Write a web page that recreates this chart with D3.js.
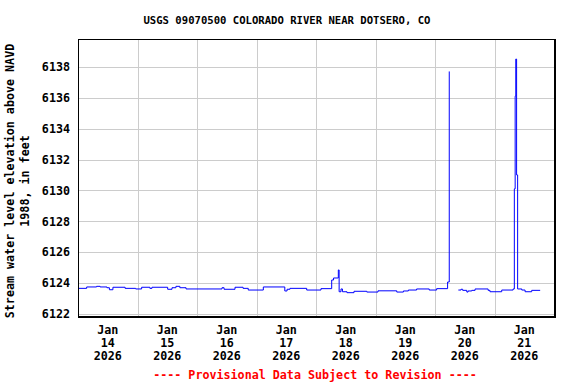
<!DOCTYPE html>
<html>
<head>
<meta charset="utf-8">
<script src="https://cdn.jsdelivr.net/npm/d3@7"></script>
<style>
  body { margin: 0; background: #fff; }
  svg { display: block; }
  text { font-family: "DejaVu Sans Mono", "Liberation Mono", monospace; font-weight: bold; }
</style>
</head>
<body>
<div id="chart"></div>
<script>
// gage readings, null = missing record
var times = [
  "2026-01-14 00:00", "2026-01-14 03:30", "2026-01-14 07:30", "2026-01-14 08:55", "2026-01-14 11:40",
  "2026-01-14 12:40", "2026-01-14 14:05", "2026-01-14 19:00", "2026-01-14 23:15", "2026-01-15 01:40",
  "2026-01-15 05:00", "2026-01-15 05:50", "2026-01-15 12:10", "2026-01-15 13:55", "2026-01-15 15:30",
  "2026-01-15 17:05", "2026-01-15 19:35", "2026-01-16 10:05", "2026-01-16 10:55", "2026-01-16 15:20",
  "2026-01-16 18:35", "2026-01-16 20:40", "2026-01-17 02:45", "2026-01-17 11:25", "2026-01-17 12:20",
  "2026-01-17 13:30", "2026-01-17 20:15", "2026-01-18 02:00", "2026-01-18 06:20", "2026-01-18 07:05",
  "2026-01-18 09:00", "2026-01-18 09:20", "2026-01-18 10:05", "2026-01-18 10:40", "2026-01-18 12:30",
  "2026-01-18 15:20", "2026-01-18 20:30", "2026-01-19 01:00", "2026-01-19 08:35", "2026-01-19 11:15",
  "2026-01-19 13:15", "2026-01-19 16:35", "2026-01-19 21:40", "2026-01-20 00:40", "2026-01-20 05:05",
  "2026-01-20 05:45", "2026-01-20 06:00", "2026-01-20 09:25", "2026-01-20 10:30", "2026-01-20 11:10",
  "2026-01-20 12:50", "2026-01-20 13:20", "2026-01-20 14:50", "2026-01-20 16:10", "2026-01-20 21:25",
  "2026-01-20 22:10", "2026-01-21 02:55", "2026-01-21 07:30", "2026-01-21 08:00", "2026-01-21 08:20",
  "2026-01-21 08:35", "2026-01-21 08:55", "2026-01-21 09:20", "2026-01-21 11:00", "2026-01-21 12:20",
  "2026-01-21 15:00", "2026-01-21 18:25"
];
var levels = [
  6123.66, 6123.75, 6123.79, 6123.75, 6123.70,
  6123.57, 6123.73, 6123.66, 6123.62, 6123.73,
  6123.66, 6123.73, 6123.60, 6123.70, 6123.79,
  6123.70, 6123.62, 6123.70, 6123.60, 6123.73,
  6123.66, 6123.55, 6123.75, 6123.49, 6123.60,
  6123.66, 6123.55, 6123.64, 6124.20, 6124.33,
  6124.85, 6123.44, 6123.62, 6123.44, 6123.38,
  6123.47, 6123.42, 6123.50, 6123.42, 6123.49,
  6123.55, 6123.62, 6123.55, 6123.64, 6124.07,
  6137.70, null, 6123.55, 6123.60, 6123.53,
  6123.42, 6123.49, 6123.53, 6123.62, 6123.53,
  6123.44, 6123.55, 6123.62, 6130.10, 6136.10,
  6138.50, 6131.00, 6123.62, 6123.55, 6123.44,
  6123.53, 6123.53
];
var yTicks = [6122, 6124, 6126, 6128, 6130, 6132, 6134, 6136, 6138];
var dayLabels = ["2026-01-14", "2026-01-15", "2026-01-16", "2026-01-17", "2026-01-18", "2026-01-19", "2026-01-20", "2026-01-21"];

var width = 576, height = 384;
var margin = {top: 39, right: 22, bottom: 68, left: 78};
var w = width - margin.left - margin.right;
var h = height - margin.top - margin.bottom;
var fs = "11.7px";

var parseT = d3.utcParse("%Y-%m-%d %H:%M");
var parseD = d3.utcParse("%Y-%m-%d");

var data = times.map(function(t, i) {
    return {date: parseT(t), value: levels[i]};
});

var x = d3.scaleUtc()
    .domain([parseD("2026-01-14"), parseD("2026-01-22")])
    .range([0, w]);

var y = d3.scaleLinear()
    .domain([6121.87, 6139.8])
    .range([h, 0]);

var svg = d3.select("#chart").append("svg")
    .attr("width", width)
    .attr("height", height);

svg.append("text")
    .attr("x", 287)
    .attr("y", 24)
    .attr("text-anchor", "middle")
    .style("font-size", "10.6px")
    .text("USGS 09070500 COLORADO RIVER NEAR DOTSERO, CO");

var g = svg.append("g")
    .attr("transform", "translate(" + margin.left + "," + margin.top + ")");

// grid
g.append("g")
    .selectAll("line")
    .data(yTicks)
    .enter().append("line")
    .attr("x1", 0).attr("x2", w)
    .attr("y1", function(d) { return Math.round(y(d)) + 0.5; })
    .attr("y2", function(d) { return Math.round(y(d)) + 0.5; })
    .attr("stroke", "#cccccc");

g.append("g")
    .selectAll("line")
    .data(d3.utcDay.range(parseD("2026-01-15"), parseD("2026-01-22")))
    .enter().append("line")
    .attr("y1", 0).attr("y2", h)
    .attr("x1", function(d) { return Math.round(x(d)) + 0.5; })
    .attr("x2", function(d) { return Math.round(x(d)) + 0.5; })
    .attr("stroke", "#cccccc");

// y axis labels
var yAxis = d3.axisLeft(y)
    .tickValues(yTicks)
    .tickFormat(d3.format("d"))
    .tickSize(0)
    .tickPadding(8);

g.append("g")
    .call(yAxis)
    .call(function(s) { s.select(".domain").remove(); })
    .selectAll("text")
    .style("font-size", fs)
    .attr("fill", "#000");

// x axis labels at noon of each day
function noon(d) { return x(d3.utcHour.offset(parseD(d), 12)); }

var xLab = g.append("g")
    .attr("transform", "translate(0," + h + ")")
    .selectAll("text")
    .data(dayLabels)
    .enter().append("text")
    .attr("text-anchor", "middle")
    .style("font-size", fs);

xLab.append("tspan").attr("x", noon).attr("y", 18).text("Jan");
xLab.append("tspan").attr("x", noon).attr("y", 31)
    .text(function(d) { return d3.utcFormat("%d")(parseD(d)); });
xLab.append("tspan").attr("x", noon).attr("y", 44).text("2026");

// the series
var line = d3.line()
    .defined(function(d) { return d.value !== null; })
    .curve(d3.curveStepAfter)
    .x(function(d) { return x(d.date); })
    .y(function(d) { return y(d.value); });

g.append("path")
    .datum(data)
    .attr("fill", "none")
    .attr("stroke", "#0000ff")
    .attr("stroke-width", 1)
    .attr("d", line);

// frame: thin top/left, heavier right/bottom
g.append("rect")
    .attr("x", 0.5).attr("y", 0.5)
    .attr("width", w).attr("height", h)
    .attr("fill", "none")
    .attr("stroke", "#000")
    .attr("stroke-width", 1);
g.append("line")
    .attr("x1", 0).attr("x2", w + 1.5)
    .attr("y1", h + 1.5).attr("y2", h + 1.5)
    .attr("stroke", "#000").attr("stroke-width", 1);
g.append("line")
    .attr("x1", w + 1.5).attr("x2", w + 1.5)
    .attr("y1", 0).attr("y2", h + 2)
    .attr("stroke", "#000").attr("stroke-width", 1);

// y title
var yt = svg.append("text")
    .attr("transform", "translate(14,181) rotate(-90)")
    .attr("text-anchor", "middle")
    .style("font-size", fs);
yt.append("tspan").attr("x", 0).attr("y", 0).text("Stream water level elevation above NAVD");
yt.append("tspan").attr("x", 0).attr("y", 14.5).text("1988, in feet");

svg.append("text")
    .attr("x", 315)
    .attr("y", 379)
    .attr("text-anchor", "middle")
    .attr("fill", "#ff0000")
    .style("font-size", fs)
    .text("---- Provisional Data Subject to Revision ----");
</script>
</body>
</html>
